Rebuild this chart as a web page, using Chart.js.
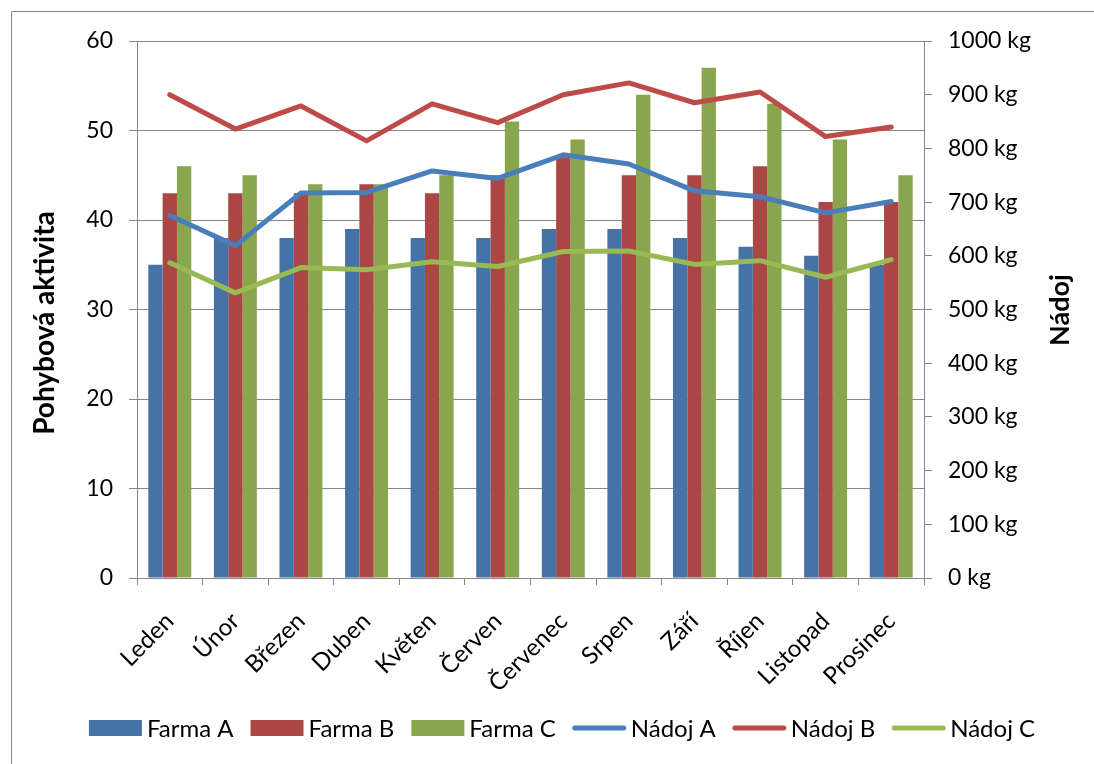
<!DOCTYPE html>
<html>
<head>
<meta charset="utf-8">
<script src="https://cdn.jsdelivr.net/npm/chart.js@4/dist/chart.umd.min.js"></script>
<style>
  html, body { margin: 0; padding: 0; background: #fff; }
  #wrap { width: 1094px; height: 764px; position: relative; }
</style>
</head>
<body>
<div id="wrap"><canvas id="c" width="1094" height="764"></canvas></div>
<script>
// Měsíce
const months = ['Leden', 'Únor', 'Březen', 'Duben', 'Květen', 'Červen', 'Červenec', 'Srpen', 'Září', 'Říjen', 'Listopad', 'Prosinec'];

// Pohybová aktivita (levá osa)
const farmaA = [35, 38, 38, 39, 38, 38, 39, 39, 38, 37, 36, 35];
const farmaB = [43, 43, 43, 44, 43, 45, 47, 45, 45, 46, 42, 42];
const farmaC = [46, 45, 44, 44, 45, 51, 49, 54, 57, 53, 49, 45];

// Nádoj v kg (pravá osa)
const nadojA = [675, 619, 717, 718, 758, 744, 788, 771, 721, 710, 680, 701];
const nadojB = [900, 836, 879, 814, 883, 848, 900, 922, 885, 905, 822, 840];
const nadojC = [587, 531, 578, 574, 589, 580, 608, 609, 584, 591, 560, 593];

// Rozsahy os
const activityRange = { min: 0, max: 60, step: 10 };
const milkRange = { min: 0, max: 1000, step: 100 };
const milkUnit = 'kg';

const FONT = 'Lato, "Noto Sans", sans-serif';
const AXIS_GRAY = '#868686';

const frame = {
  id: 'frame',
  beforeDraw(chart) {
    const ctx = chart.ctx;
    ctx.save();
    ctx.fillStyle = '#fff';
    ctx.fillRect(0, 0, chart.width, chart.height);
    ctx.strokeStyle = AXIS_GRAY;
    ctx.lineWidth = 1;
    ctx.beginPath();
    ctx.moveTo(11.5, chart.height);
    ctx.lineTo(11.5, 11.5);
    ctx.lineTo(chart.width, 11.5);
    ctx.stroke();
    ctx.restore();
  }
};

// Svislé popisky os
const axisTitles = {
  id: 'axisTitles',
  afterDraw(chart) {
    const ctx = chart.ctx;
    ctx.save();
    ctx.fillStyle = '#000';
    ctx.textAlign = 'center';
    ctx.textBaseline = 'middle';
    const drawRot = (text, x, y, size) => {
      ctx.save();
      ctx.font = 'bold ' + size + 'px ' + FONT;
      ctx.translate(x, y);
      ctx.rotate(-Math.PI / 2);
      ctx.fillText(text, 0, 0);
      ctx.restore();
    };
    drawRot('Pohybová aktivita', 45, 323, 28);
    drawRot('Nádoj', 1060, 310, 27);
    ctx.restore();
  }
};

// Legenda pod grafem: obdélníky pro sloupce, čáry pro nádoj
const bottomLegend = {
  id: 'bottomLegend',
  afterDraw(chart) {
    const ctx = chart.ctx;
    const items = chart.data.datasets.map(ds => ({
      text: ds.label,
      bar: ds.type === 'bar',
      color: ds.type === 'bar' ? ds.backgroundColor : ds.borderColor
    }));
    const keyW = 53, gap = 5, spacing = 17, cy = 728, cx = 562;
    ctx.save();
    ctx.font = '24px ' + FONT;
    const widths = items.map(it => keyW + gap + ctx.measureText(it.text).width);
    const total = widths.reduce((a, b) => a + b, 0) + spacing * (items.length - 1);
    let x = cx - total / 2;
    items.forEach((it, i) => {
      if (it.bar) {
        ctx.fillStyle = it.color;
        ctx.fillRect(x, cy - 8, keyW, 16);
      } else {
        ctx.strokeStyle = it.color;
        ctx.lineWidth = 5;
        ctx.lineCap = 'round';
        ctx.beginPath();
        ctx.moveTo(x + 2, cy);
        ctx.lineTo(x + keyW - 2, cy);
        ctx.stroke();
      }
      ctx.fillStyle = '#000';
      ctx.textAlign = 'left';
      ctx.textBaseline = 'middle';
      ctx.fillText(it.text, x + keyW + gap, cy + 1);
      x += widths[i] + spacing;
    });
    ctx.restore();
  }
};

const barDs = (label, data, color) => ({
  type: 'bar', label, data, yAxisID: 'y',
  backgroundColor: color, borderWidth: 0, order: 2,
  categoryPercentage: 0.655, barPercentage: 1.0
});
const lineDs = (label, data, color) => ({
  type: 'line', label, data, yAxisID: 'y1',
  borderColor: color, backgroundColor: color, borderWidth: 5,
  pointRadius: 0, pointHoverRadius: 0, tension: 0,
  borderCapStyle: 'round', borderJoinStyle: 'round', order: 1
});

new Chart(document.getElementById('c'), {
  data: {
    labels: months,
    datasets: [
      barDs('Farma A', farmaA, '#4572A7'),
      barDs('Farma B', farmaB, '#AA4643'),
      barDs('Farma C', farmaC, '#89A54E'),
      lineDs('Nádoj A', nadojA, '#4A7EBB'),
      lineDs('Nádoj B', nadojB, '#BE4B48'),
      lineDs('Nádoj C', nadojC, '#98B954')
    ]
  },
  options: {
    responsive: false,
    animation: false,
    devicePixelRatio: 1,
    layout: { padding: { top: 41, left: 0, right: 0, bottom: 0 } },
    plugins: {
      tooltip: { enabled: false },
      legend: { display: false }
    },
    scales: {
      x: {
        grid: { display: true, offset: true, drawOnChartArea: false, color: AXIS_GRAY, tickLength: 7 },
        border: { color: AXIS_GRAY, width: 1 },
        ticks: {
          color: '#000', font: { family: FONT, size: 24 },
          minRotation: 45, maxRotation: 45, padding: 22, autoSkip: false
        },
        afterFit(scale) { scale.height = 186; }
      },
      y: {
        position: 'left',
        min: activityRange.min, max: activityRange.max,
        ticks: { stepSize: activityRange.step, color: '#000', font: { family: FONT, size: 23 }, padding: 16 },
        grid: { color: AXIS_GRAY, tickLength: 8 },
        border: { color: AXIS_GRAY, width: 1 },
        afterFit(scale) { scale.width = 137; }
      },
      y1: {
        position: 'right',
        min: milkRange.min, max: milkRange.max,
        ticks: {
          stepSize: milkRange.step, color: '#000', font: { family: FONT, size: 23 }, padding: 16,
          callback: (v) => v + ' ' + milkUnit
        },
        grid: { drawOnChartArea: false, color: AXIS_GRAY, tickLength: 8 },
        border: { color: AXIS_GRAY, width: 1 },
        afterFit(scale) { scale.width = 170; }
      }
    }
  },
  plugins: [frame, axisTitles, bottomLegend]
});
</script>
</body>
</html>
